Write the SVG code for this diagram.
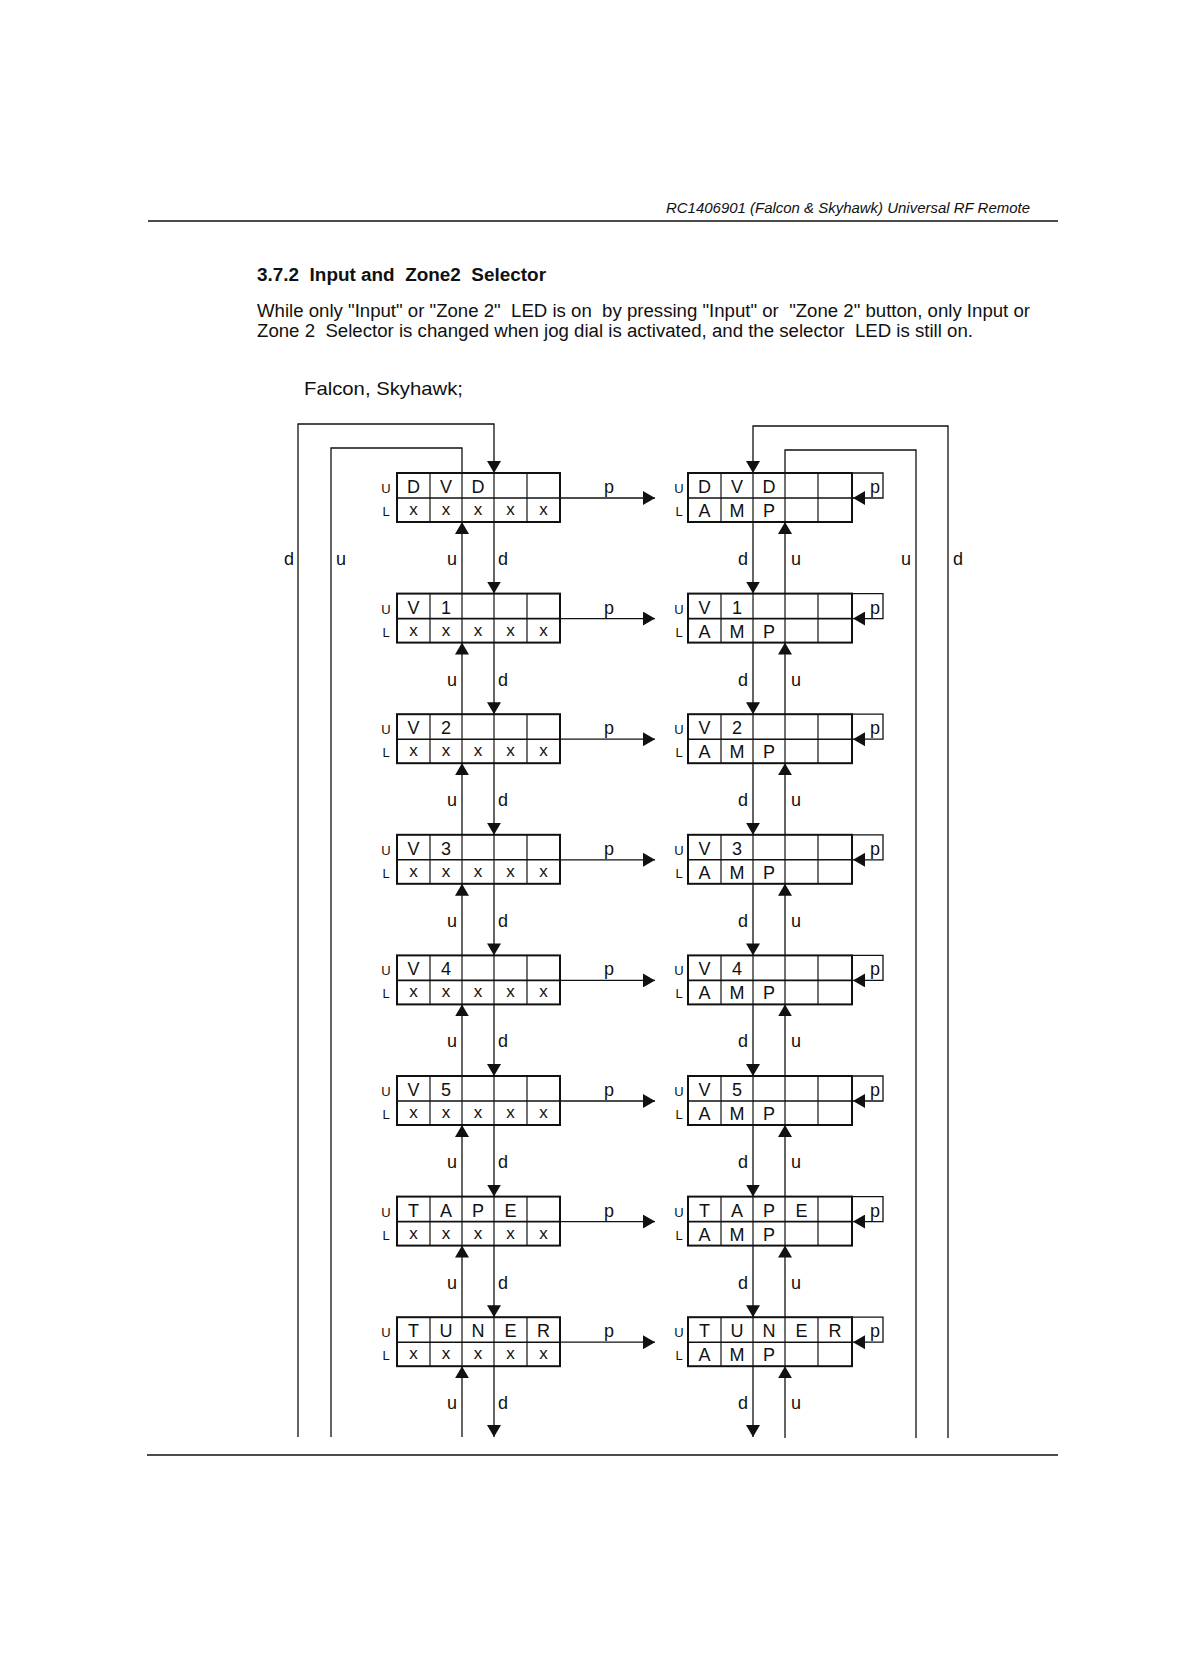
<svg xmlns="http://www.w3.org/2000/svg" width="1188" height="1680" viewBox="0 0 1188 1680">
<style>
text{font-family:"Liberation Sans",Arial,sans-serif;fill:#111}
.c{font-size:18px;text-anchor:middle}
.x{font-size:17px;text-anchor:middle}
.ul{font-size:13px;text-anchor:middle}
.lb{font-size:18px;text-anchor:middle}
.box{fill:#fff;stroke:#111;stroke-width:2}
.dv{stroke:#111;stroke-width:1.2}
.mid{stroke:#111;stroke-width:1.6}
.cn{fill:none;stroke:#111;stroke-width:1.3}
</style>
<defs>
<marker id="ah" markerUnits="userSpaceOnUse" markerWidth="12" markerHeight="14" refX="12" refY="7" orient="auto"><path d="M0,0 L12,7 L0,14 z" fill="#111"/></marker>
</defs>
<rect width="1188" height="1680" fill="#fff"/>
<g id="page">
<text x="1030" y="213" font-size="14" font-style="italic" text-anchor="end" textLength="364" lengthAdjust="spacingAndGlyphs">RC1406901 (Falcon &amp; Skyhawk) Universal RF Remote</text>
<line x1="148" y1="221" x2="1058" y2="221" stroke="#111" stroke-width="1.6"/>
<text xml:space="preserve" x="257" y="281" font-size="18" font-weight="bold" textLength="289" lengthAdjust="spacingAndGlyphs">3.7.2  Input and  Zone2  Selector</text>
<text xml:space="preserve" x="257" y="317" font-size="18" textLength="773" lengthAdjust="spacingAndGlyphs">While only "Input" or "Zone 2"  LED is on  by pressing "Input" or  "Zone 2" button, only Input or</text>
<text xml:space="preserve" x="257" y="337" font-size="18" textLength="716" lengthAdjust="spacingAndGlyphs">Zone 2  Selector is changed when jog dial is activated, and the selector  LED is still on.</text>
<text x="304" y="395" font-size="19" textLength="159" lengthAdjust="spacingAndGlyphs">Falcon, Skyhawk;</text>
<line x1="147" y1="1455" x2="1058" y2="1455" stroke="#111" stroke-width="1.6"/>
</g>
<g id="connectors">
<path class="cn" d="M298,1437 V424 H494 V473" marker-end="url(#ah)"/>
<path class="cn" d="M331,1437 V448 H462 V473"/>
<path class="cn" d="M948,1438 V426 H753 V473" marker-end="url(#ah)"/>
<path class="cn" d="M916,1438 V450 H785 V473"/>
<text class="lb" x="289" y="565">d</text><text class="lb" x="341" y="565">u</text>
<text class="lb" x="906" y="565">u</text><text class="lb" x="958" y="565">d</text>
<path class="cn" d="M494,522 V593.6" marker-end="url(#ah)"/><path class="cn" d="M462,593.6 V522" marker-end="url(#ah)"/>
<path class="cn" d="M753,522 V593.6" marker-end="url(#ah)"/><path class="cn" d="M785,593.6 V522" marker-end="url(#ah)"/>
<path class="cn" d="M494,642.6 V714.2" marker-end="url(#ah)"/><path class="cn" d="M462,714.2 V642.6" marker-end="url(#ah)"/>
<path class="cn" d="M753,642.6 V714.2" marker-end="url(#ah)"/><path class="cn" d="M785,714.2 V642.6" marker-end="url(#ah)"/>
<path class="cn" d="M494,763.2 V834.8" marker-end="url(#ah)"/><path class="cn" d="M462,834.8 V763.2" marker-end="url(#ah)"/>
<path class="cn" d="M753,763.2 V834.8" marker-end="url(#ah)"/><path class="cn" d="M785,834.8 V763.2" marker-end="url(#ah)"/>
<path class="cn" d="M494,883.8 V955.4" marker-end="url(#ah)"/><path class="cn" d="M462,955.4 V883.8" marker-end="url(#ah)"/>
<path class="cn" d="M753,883.8 V955.4" marker-end="url(#ah)"/><path class="cn" d="M785,955.4 V883.8" marker-end="url(#ah)"/>
<path class="cn" d="M494,1004.4 V1076" marker-end="url(#ah)"/><path class="cn" d="M462,1076 V1004.4" marker-end="url(#ah)"/>
<path class="cn" d="M753,1004.4 V1076" marker-end="url(#ah)"/><path class="cn" d="M785,1076 V1004.4" marker-end="url(#ah)"/>
<path class="cn" d="M494,1125 V1196.6" marker-end="url(#ah)"/><path class="cn" d="M462,1196.6 V1125" marker-end="url(#ah)"/>
<path class="cn" d="M753,1125 V1196.6" marker-end="url(#ah)"/><path class="cn" d="M785,1196.6 V1125" marker-end="url(#ah)"/>
<path class="cn" d="M494,1245.6 V1317.2" marker-end="url(#ah)"/><path class="cn" d="M462,1317.2 V1245.6" marker-end="url(#ah)"/>
<path class="cn" d="M753,1245.6 V1317.2" marker-end="url(#ah)"/><path class="cn" d="M785,1317.2 V1245.6" marker-end="url(#ah)"/>
<path class="cn" d="M494,1366.2 V1437" marker-end="url(#ah)"/><path class="cn" d="M462,1437 V1366.2" marker-end="url(#ah)"/>
<path class="cn" d="M753,1366.2 V1437" marker-end="url(#ah)"/><path class="cn" d="M785,1438 V1366.2" marker-end="url(#ah)"/>
<g>
<text class="lb" x="452" y="565">u</text><text class="lb" x="503" y="565">d</text><text class="lb" x="743" y="565">d</text><text class="lb" x="796" y="565">u</text>
<text class="lb" x="452" y="685.6">u</text><text class="lb" x="503" y="685.6">d</text><text class="lb" x="743" y="685.6">d</text><text class="lb" x="796" y="685.6">u</text>
<text class="lb" x="452" y="806.2">u</text><text class="lb" x="503" y="806.2">d</text><text class="lb" x="743" y="806.2">d</text><text class="lb" x="796" y="806.2">u</text>
<text class="lb" x="452" y="926.8">u</text><text class="lb" x="503" y="926.8">d</text><text class="lb" x="743" y="926.8">d</text><text class="lb" x="796" y="926.8">u</text>
<text class="lb" x="452" y="1047.4">u</text><text class="lb" x="503" y="1047.4">d</text><text class="lb" x="743" y="1047.4">d</text><text class="lb" x="796" y="1047.4">u</text>
<text class="lb" x="452" y="1168">u</text><text class="lb" x="503" y="1168">d</text><text class="lb" x="743" y="1168">d</text><text class="lb" x="796" y="1168">u</text>
<text class="lb" x="452" y="1288.6">u</text><text class="lb" x="503" y="1288.6">d</text><text class="lb" x="743" y="1288.6">d</text><text class="lb" x="796" y="1288.6">u</text>
<text class="lb" x="452" y="1409.2">u</text><text class="lb" x="503" y="1409.2">d</text><text class="lb" x="743" y="1409.2">d</text><text class="lb" x="796" y="1409.2">u</text>
</g>
<g>
<path class="cn" d="M560,498 H655" marker-end="url(#ah)"/><text class="lb" x="609" y="493">p</text>
<path class="cn" d="M560,618.6 H655" marker-end="url(#ah)"/><text class="lb" x="609" y="613.6">p</text>
<path class="cn" d="M560,739.2 H655" marker-end="url(#ah)"/><text class="lb" x="609" y="734.2">p</text>
<path class="cn" d="M560,859.8 H655" marker-end="url(#ah)"/><text class="lb" x="609" y="854.8">p</text>
<path class="cn" d="M560,980.4 H655" marker-end="url(#ah)"/><text class="lb" x="609" y="975.4">p</text>
<path class="cn" d="M560,1101 H655" marker-end="url(#ah)"/><text class="lb" x="609" y="1096">p</text>
<path class="cn" d="M560,1221.6 H655" marker-end="url(#ah)"/><text class="lb" x="609" y="1216.6">p</text>
<path class="cn" d="M560,1342.2 H655" marker-end="url(#ah)"/><text class="lb" x="609" y="1337.2">p</text>
</g>
<g>
<path class="cn" d="M852,473 H883 V498 H853" marker-end="url(#ah)"/><text class="lb" x="875" y="493">p</text>
<path class="cn" d="M852,593.6 H883 V618.6 H853" marker-end="url(#ah)"/><text class="lb" x="875" y="613.6">p</text>
<path class="cn" d="M852,714.2 H883 V739.2 H853" marker-end="url(#ah)"/><text class="lb" x="875" y="734.2">p</text>
<path class="cn" d="M852,834.8 H883 V859.8 H853" marker-end="url(#ah)"/><text class="lb" x="875" y="854.8">p</text>
<path class="cn" d="M852,955.4 H883 V980.4 H853" marker-end="url(#ah)"/><text class="lb" x="875" y="975.4">p</text>
<path class="cn" d="M852,1076 H883 V1101 H853" marker-end="url(#ah)"/><text class="lb" x="875" y="1096">p</text>
<path class="cn" d="M852,1196.6 H883 V1221.6 H853" marker-end="url(#ah)"/><text class="lb" x="875" y="1216.6">p</text>
<path class="cn" d="M852,1317.2 H883 V1342.2 H853" marker-end="url(#ah)"/><text class="lb" x="875" y="1337.2">p</text>
</g>
</g>
<defs>
<g id="lgrid"><rect class="box" x="397" y="0" width="163" height="49"/><line class="mid" x1="397" y1="25" x2="560" y2="25"/><line class="dv" x1="430" y1="0" x2="430" y2="49"/><line class="dv" x1="462" y1="0" x2="462" y2="49"/><line class="dv" x1="494" y1="0" x2="494" y2="49"/><line class="dv" x1="527" y1="0" x2="527" y2="49"/><text class="ul" x="386" y="20">U</text><text class="ul" x="386" y="43">L</text><text class="x" x="413.5" y="42">x</text><text class="x" x="446" y="42">x</text><text class="x" x="478" y="42">x</text><text class="x" x="510.5" y="42">x</text><text class="x" x="543.5" y="42">x</text></g>
<g id="rgrid"><rect class="box" x="688" y="0" width="164" height="49"/><line class="mid" x1="688" y1="25" x2="852" y2="25"/><line class="dv" x1="721" y1="0" x2="721" y2="49"/><line class="dv" x1="753" y1="0" x2="753" y2="49"/><line class="dv" x1="785" y1="0" x2="785" y2="49"/><line class="dv" x1="818" y1="0" x2="818" y2="49"/><text class="ul" x="679" y="20">U</text><text class="ul" x="679" y="43">L</text><text class="c" x="704.5" y="44">A</text><text class="c" x="737" y="44">M</text><text class="c" x="769" y="44">P</text></g>
</defs>
<g id="L_DVD" transform="translate(0,473)"><use href="#lgrid"/><text class="c" x="413.5" y="20">D</text><text class="c" x="446" y="20">V</text><text class="c" x="478" y="20">D</text></g>
<g id="L_V1" transform="translate(0,593.6)"><use href="#lgrid"/><text class="c" x="413.5" y="20">V</text><text class="c" x="446" y="20">1</text></g>
<g id="L_V2" transform="translate(0,714.2)"><use href="#lgrid"/><text class="c" x="413.5" y="20">V</text><text class="c" x="446" y="20">2</text></g>
<g id="L_V3" transform="translate(0,834.8)"><use href="#lgrid"/><text class="c" x="413.5" y="20">V</text><text class="c" x="446" y="20">3</text></g>
<g id="L_V4" transform="translate(0,955.4)"><use href="#lgrid"/><text class="c" x="413.5" y="20">V</text><text class="c" x="446" y="20">4</text></g>
<g id="L_V5" transform="translate(0,1076)"><use href="#lgrid"/><text class="c" x="413.5" y="20">V</text><text class="c" x="446" y="20">5</text></g>
<g id="L_TAPE" transform="translate(0,1196.6)"><use href="#lgrid"/><text class="c" x="413.5" y="20">T</text><text class="c" x="446" y="20">A</text><text class="c" x="478" y="20">P</text><text class="c" x="510.5" y="20">E</text></g>
<g id="L_TUNER" transform="translate(0,1317.2)"><use href="#lgrid"/><text class="c" x="413.5" y="20">T</text><text class="c" x="446" y="20">U</text><text class="c" x="478" y="20">N</text><text class="c" x="510.5" y="20">E</text><text class="c" x="543.5" y="20">R</text></g>
<g id="R_DVD" transform="translate(0,473)"><use href="#rgrid"/><text class="c" x="704.5" y="20">D</text><text class="c" x="737" y="20">V</text><text class="c" x="769" y="20">D</text></g>
<g id="R_V1" transform="translate(0,593.6)"><use href="#rgrid"/><text class="c" x="704.5" y="20">V</text><text class="c" x="737" y="20">1</text></g>
<g id="R_V2" transform="translate(0,714.2)"><use href="#rgrid"/><text class="c" x="704.5" y="20">V</text><text class="c" x="737" y="20">2</text></g>
<g id="R_V3" transform="translate(0,834.8)"><use href="#rgrid"/><text class="c" x="704.5" y="20">V</text><text class="c" x="737" y="20">3</text></g>
<g id="R_V4" transform="translate(0,955.4)"><use href="#rgrid"/><text class="c" x="704.5" y="20">V</text><text class="c" x="737" y="20">4</text></g>
<g id="R_V5" transform="translate(0,1076)"><use href="#rgrid"/><text class="c" x="704.5" y="20">V</text><text class="c" x="737" y="20">5</text></g>
<g id="R_TAPE" transform="translate(0,1196.6)"><use href="#rgrid"/><text class="c" x="704.5" y="20">T</text><text class="c" x="737" y="20">A</text><text class="c" x="769" y="20">P</text><text class="c" x="801.5" y="20">E</text></g>
<g id="R_TUNER" transform="translate(0,1317.2)"><use href="#rgrid"/><text class="c" x="704.5" y="20">T</text><text class="c" x="737" y="20">U</text><text class="c" x="769" y="20">N</text><text class="c" x="801.5" y="20">E</text><text class="c" x="835" y="20">R</text></g>
</svg>
